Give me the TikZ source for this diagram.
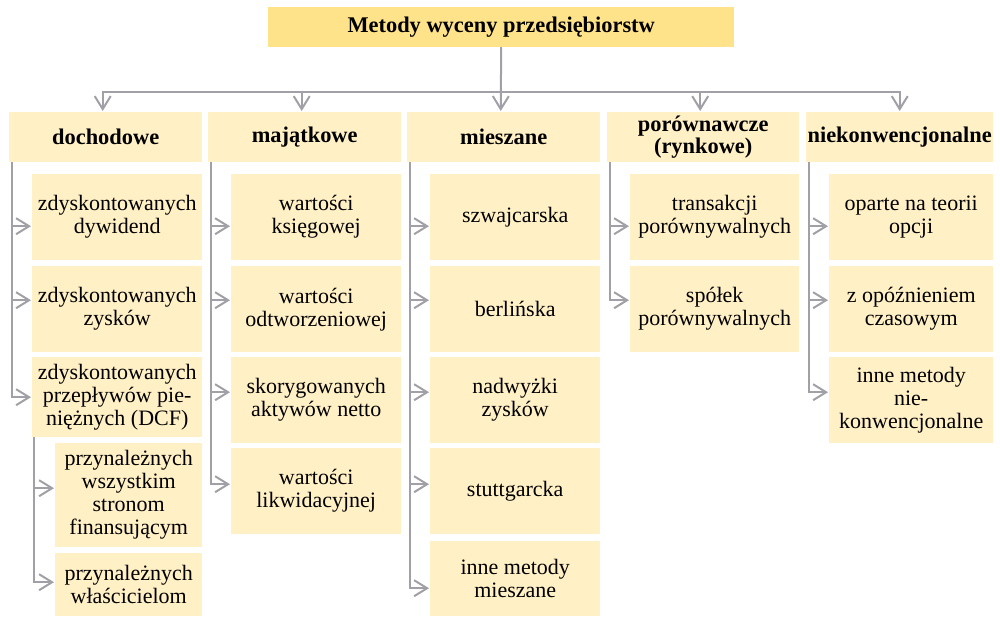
\documentclass[tikz,border=0pt]{standalone}
\usepackage{fontspec}
\setmainfont{Liberation Serif}
\usetikzlibrary{arrows.meta}
\definecolor{titlec}{HTML}{FFE38A}
\definecolor{boxc}{HTML}{FFF0C6}
\definecolor{linec}{HTML}{A0A0A6}
\begin{document}
\begin{tikzpicture}[x=1pt,y=-1pt,
  bx/.style 2 args={fill=boxc, anchor=north west, inner sep=0pt, align=center,
    minimum width=#1pt, minimum height=#2pt, font=\fontsize{22}{23}\selectfont},
  catbox/.style={bx={#1}{50}, font=\fontsize{22.4}{22}\selectfont\bfseries},
  conn/.style={draw=linec, line width=2pt, -{Straight Barb[length=13pt,width=16pt]}, shorten >=1pt}]
\useasboundingbox (0,0) rectangle (1000,616);

% title
\node[bx={466}{40}, fill=titlec, font=\fontsize{22.4}{22}\selectfont\bfseries] (T) at (268,7) {Metody wyceny przedsiębiorstw};

% categories
\node[catbox=193] (D) at (9,112) {dochodowe};
\node[catbox=193] (M) at (208,112) {majątkowe};
\node[catbox=193] (X) at (407,112) {mieszane};
\node[catbox=192] (P) at (607,112) {porównawcze\\(rynkowe)};
\node[catbox=187] (N) at (806,112) {niekonwencjonalne};

% dochodowe
\node[bx={170}{86}] (d1) at (32,174) {zdyskontowanych\\dywidend};
\node[bx={170}{86}] (d2) at (32,266) {zdyskontowanych\\zysków};
\node[bx={170}{80}] (d3) at (32,357) {zdyskontowanych\\przepływów pie-\\niężnych (DCF)};
\node[bx={147}{104}] (s1) at (55,443) {przynależnych\\wszystkim\\stronom\\finansującym};
\node[bx={147}{63}] (s2) at (55,553) {przynależnych\\właścicielom};

% majatkowe
\node[bx={170}{86}] (m1) at (231,174) {wartości\\księgowej};
\node[bx={170}{86}] (m2) at (231,266) {wartości\\odtworzeniowej};
\node[bx={170}{86}] (m3) at (231,357) {skorygowanych\\aktywów netto};
\node[bx={170}{86}] (m4) at (231,448) {wartości\\likwidacyjnej};

% mieszane
\node[bx={170}{86}] (x1) at (430,174) {szwajcarska};
\node[bx={170}{86}] (x2) at (430,266) {berlińska};
\node[bx={170}{86}] (x3) at (430,357) {nadwyżki\\zysków};
\node[bx={170}{86}] (x4) at (430,448) {stuttgarcka};
\node[bx={170}{75}] (x5) at (430,541) {inne metody\\mieszane};

% porownawcze
\node[bx={169}{86}] (p1) at (630,174) {transakcji\\porównywalnych};
\node[bx={169}{86}] (p2) at (630,266) {spółek\\porównywalnych};

% niekonwencjonalne
\node[bx={164}{86}] (n1) at (829,174) {oparte na teorii\\opcji};
\node[bx={164}{86}] (n2) at (829,266) {z opóźnieniem\\czasowym};
\node[bx={164}{86}] (n3) at (829,357) {inne metody\\nie-\\konwencjonalne};

% title -> categories
\draw[conn] (T.south) -- ++(0,45) -| ([xshift=-3]D.north);
\draw[conn] (T.south) -- ++(0,45) -| ([xshift=-3]M.north);
\draw[conn] (T.south) -- ([xshift=-3]X.north);
\draw[conn] (T.south) -- ++(0,45) -| ([xshift=-3]P.north);
\draw[conn] (T.south) -- ++(0,45) -| (N.north);

% dochodowe
\draw[conn] ([xshift=3]D.south west) |- ([yshift=-9]d1.west);
\draw[conn] ([xshift=3]D.south west) |- ([yshift=9]d2.west);
\draw[conn] ([xshift=3]D.south west) |- (d3.west);
\draw[conn] ([xshift=2]d3.south west) |- ([yshift=7]s1.west);
\draw[conn] ([xshift=2]d3.south west) |- ([yshift=2.5]s2.west);

% majatkowe
\draw[conn] ([xshift=3]M.south west) |- ([yshift=-9]m1.west);
\draw[conn] ([xshift=3]M.south west) |- ([yshift=9]m2.west);
\draw[conn] ([xshift=3]M.south west) |- ([yshift=8]m3.west);
\draw[conn] ([xshift=3]M.south west) |- ([yshift=7]m4.west);

% mieszane
\draw[conn] ([xshift=3]X.south west) |- ([yshift=-9]x1.west);
\draw[conn] ([xshift=3]X.south west) |- ([yshift=9]x2.west);
\draw[conn] ([xshift=3]X.south west) |- ([yshift=8]x3.west);
\draw[conn] ([xshift=3]X.south west) |- ([yshift=7]x4.west);
\draw[conn] ([xshift=3]X.south west) |- ([yshift=-9.5]x5.west);

% porownawcze
\draw[conn] ([xshift=2.5]P.south west) |- ([yshift=-9]p1.west);
\draw[conn] ([xshift=2.5]P.south west) |- ([yshift=9]p2.west);

% niekonwencjonalne
\draw[conn] ([xshift=2.5]N.south west) |- ([yshift=-9]n1.west);
\draw[conn] ([xshift=2.5]N.south west) |- ([yshift=9]n2.west);
\draw[conn] ([xshift=2.5]N.south west) |- ([yshift=8]n3.west);
\end{tikzpicture}
\end{document}
